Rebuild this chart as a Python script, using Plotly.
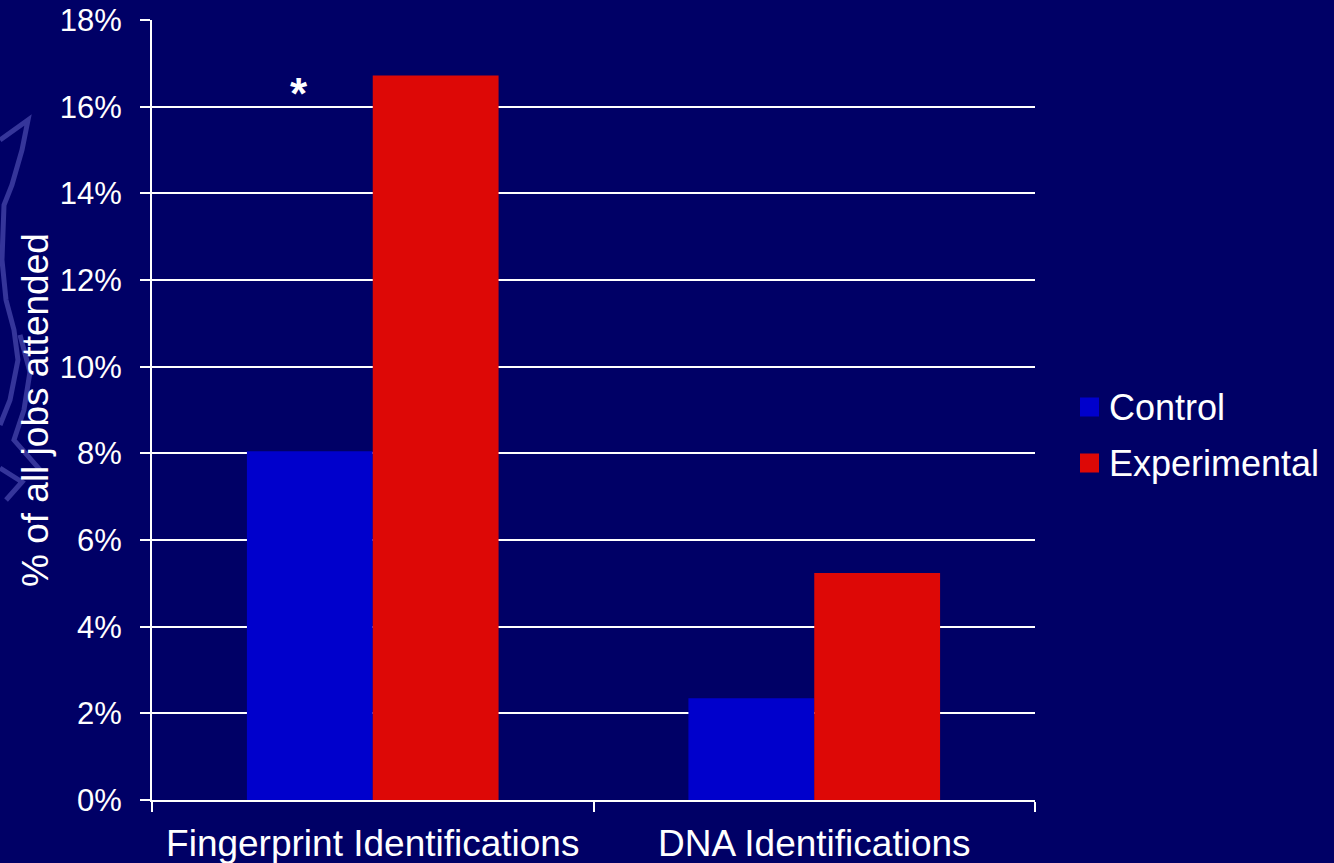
import plotly.graph_objects as go

# Share of attended jobs that produced an identification
categories = ["Fingerprint Identifications", "DNA Identifications"]
series_names = ["Control", "Experimental"]
control = [8.05, 2.35]
experimental = [16.72, 5.24]
y_ticks = [0, 2, 4, 6, 8, 10, 12, 14, 16, 18]
y_tick_labels = [f"{v}%" for v in y_ticks]

BG = "#000066"
WHITE = "#ffffff"
COLORS = ["#0000CC", "#DD0806"]
FONT = "Liberation Sans, Arial, sans-serif"

W, H = 1334, 863
L, R, T, B = 152, 299, 20, 63
PW, PH = W - L - R, H - T - B


def px_to_paper(px, py):
    return (px - L) / PW, (H - B - py) / PH


fig = go.Figure()
for name, vals, col in zip(series_names, [control, experimental], COLORS):
    fig.add_trace(go.Bar(name=name, x=categories, y=vals,
                         marker=dict(color=col, line=dict(width=0))))

# significance marker above the fingerprint control bar
fig.add_annotation(x=categories[0], y=16.3, text="<b>*</b>", showarrow=False,
                   xshift=-74, font=dict(size=44, color=WHITE, family=FONT))

# y-axis title
fig.add_annotation(xref="paper", yref="paper", x=px_to_paper(35, 0)[0], y=0.5,
                   text="% of all jobs attended", textangle=-90, showarrow=False,
                   xanchor="center", yanchor="middle",
                   font=dict(size=37, color=WHITE, family=FONT))

# legend: coloured squares with labels
for i, (name, col) in enumerate(zip(series_names, COLORS)):
    cy = 407 + 56 * i
    x0, y0 = px_to_paper(1080, cy + 9.5)
    x1, y1 = px_to_paper(1099, cy - 9.5)
    fig.add_shape(type="rect", xref="paper", yref="paper",
                  x0=x0, y0=y0, x1=x1, y1=y1,
                  fillcolor=col, line=dict(width=0))
    tx, ty = px_to_paper(1107, cy)
    fig.add_annotation(xref="paper", yref="paper", x=tx, y=ty, text=name,
                       showarrow=False, xanchor="left", yanchor="middle",
                       font=dict(size=36, color=WHITE, family=FONT))

# faint emblem outline from the slide template along the left edge
emblem_strokes = [
    [(0, 140), (28, 120), (22, 150), (12, 185), (4, 205), (2, 260),
     (6, 300), (14, 330), (18, 360), (10, 400), (0, 425)],
    [(20, 335), (30, 372), (24, 410), (14, 440), (40, 470)],
    [(0, 468), (22, 482), (6, 500)],
]
for stroke in emblem_strokes:
    pts = [px_to_paper(px, py) for px, py in stroke]
    path = "M " + " L ".join(f"{x:.4f} {y:.4f}" for x, y in pts)
    fig.add_shape(type="path", xref="paper", yref="paper", path=path,
                  line=dict(color="#35359a", width=5), layer="below")

fig.update_layout(
    width=W, height=H,
    paper_bgcolor=BG, plot_bgcolor=BG,
    margin=dict(l=L, r=R, t=T, b=B, autoexpand=False),
    barmode="group", bargap=0.43, bargroupgap=0,
    font=dict(family=FONT, color=WHITE, size=30),
    showlegend=False,
    xaxis=dict(showline=True, linecolor=WHITE, linewidth=2,
               ticks="outside", ticklen=10, tickwidth=2, tickcolor=WHITE,
               tickson="boundaries", showgrid=False, automargin=False,
               ticklabelstandoff=10,
               tickfont=dict(size=37, color=WHITE, family=FONT)),
    yaxis=dict(range=[0, 18], tickvals=y_ticks, ticktext=y_tick_labels,
               showline=True, linecolor=WHITE, linewidth=2,
               ticks="outside", ticklen=10, tickwidth=2, tickcolor=WHITE,
               showgrid=True, gridcolor=WHITE, gridwidth=2, zeroline=False,
               automargin=False, ticklabelstandoff=12,
               tickfont=dict(size=31, color=WHITE, family=FONT)),
)

fig.write_html("out.html")
